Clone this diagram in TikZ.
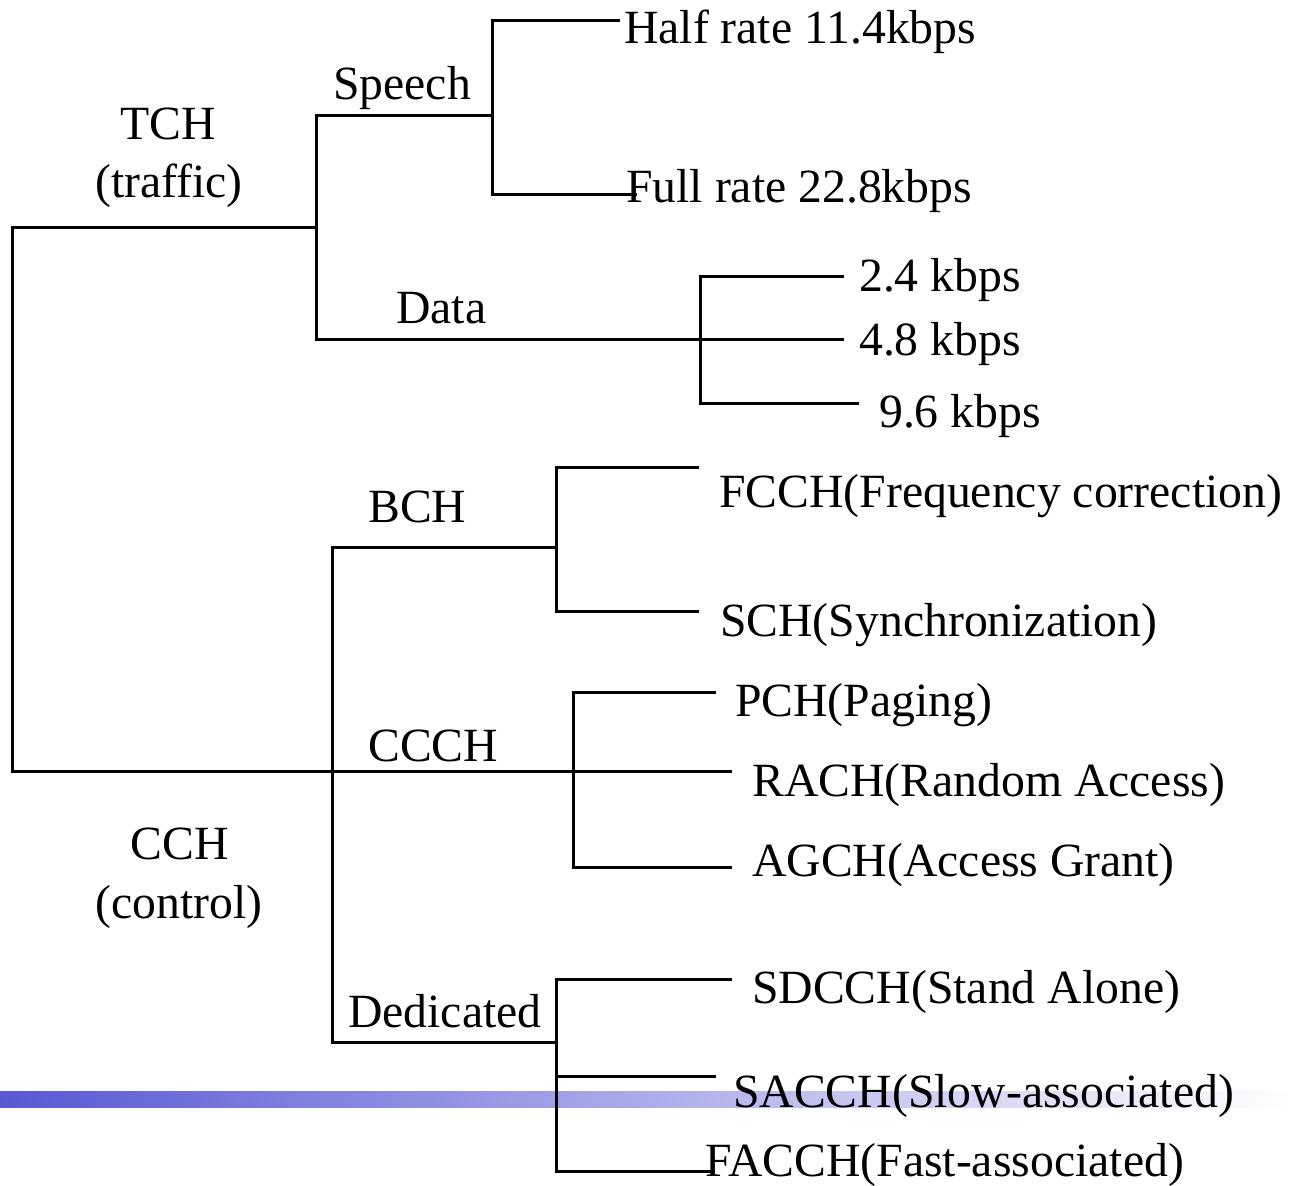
\documentclass[tikz,border=0pt]{standalone}
\usepackage{fontspec}
\setmainfont{Liberation Serif}
\definecolor{barblue}{RGB}{88,88,212}
\begin{document}
\begin{tikzpicture}[x=1pt,y=-1pt,
  branch/.style={line width=3pt, line join=miter, line cap=butt},
  lbl/.style={inner sep=0pt, anchor=base west, font=\fontsize{47.7}{57}\selectfont},
  clbl/.style={lbl, anchor=base}]
\useasboundingbox (0,0) rectangle (1291,1186);

% decorative fading bar along the bottom
\shade[left color=barblue, right color=white] (0,1091) rectangle (1291,1107);

% labels
\node[clbl] (tch)  at (168,139) {TCH};
\node[clbl] (tchb) at (169,197) {(traffic)};
\node[clbl] (cch)  at (180,859) {CCH};
\node[clbl] (cchb) at (179,918) {(control)};
\node[lbl] (speech) at (333,99) {Speech};
\node[lbl] (data)   at (396,323) {Data};
\node[lbl] (half)   at (624,43) {Half rate 11.4kbps};
\node[lbl] (full)   at (626,202) {Full rate 22.8kbps};
\node[lbl] (r24)    at (859,291) {2.4 kbps};
\node[lbl] (r48)    at (859,355) {4.8 kbps};
\node[lbl] (r96)    at (879,427) {9.6 kbps};
\node[lbl] (bch)    at (368,522) {BCH};
\node[lbl] (ccch)   at (368,761) {CCCH};
\node[lbl] (ded)    at (348,1027) {Dedicated};
\node[lbl] (fcch)   at (719,507) {FCCH(Frequency correction)};
\node[lbl] (sch)    at (720,636) {SCH(Synchronization)};
\node[lbl] (pch)    at (735,716) {PCH(Paging)};
\node[lbl] (rach)   at (752,796) {RACH(Random Access)};
\node[lbl] (agch)   at (752,876) {AGCH(Access Grant)};
\node[lbl] (sdcch)  at (752,1003) {SDCCH(Stand Alone)};
\node[lbl] (sacch)  at (733,1107) {SACCH(Slow-associated)};
\node[lbl] (facch)  at (705,1176) {FACCH(Fast-associated)};

% junction and end points of the tree
\coordinate (rootT) at (12,227.5);
\coordinate (rootC) at (12,771.5);
\coordinate (tchJ)  at (316,227.5);
\coordinate (tchT)  at (316,115.5);
\coordinate (tchB)  at (316,339);
\coordinate (spJ)   at (492,115.5);
\coordinate (spT)   at (492,20);
\coordinate (spB)   at (492,194.5);
\coordinate (halfE) at (620,20);
\coordinate (fullE) at (637,194.5);
\coordinate (daT)   at (700,276);
\coordinate (daB)   at (700,403);
\coordinate (r24E)  at (844,276);
\coordinate (r48E)  at (844,339);
\coordinate (r96E)  at (859,403);
\coordinate (cchT)  at (332,547);
\coordinate (cchB)  at (332,1042.5);
\coordinate (bchJ)  at (556,547);
\coordinate (bchT)  at (556,467);
\coordinate (bchB)  at (556,611);
\coordinate (fcchE) at (699,467);
\coordinate (schE)  at (699,611);
\coordinate (ccT)   at (573,692);
\coordinate (ccB)   at (573,867);
\coordinate (pchE)  at (716,692);
\coordinate (rachE) at (732,771.5);
\coordinate (agchE) at (732,867);
\coordinate (dedJ)  at (556,1042.5);
\coordinate (dedT)  at (556,979);
\coordinate (dedM)  at (556,1076);
\coordinate (dedB)  at (556,1171);
\coordinate (sdE)   at (732,979);
\coordinate (saE)   at (716,1076);
\coordinate (faE)   at (715,1171);

% connectors
\draw[branch] (tchJ) -- (rootT) -- (rootC) -- (rachE);
\draw[branch] (spJ) -- (tchT) -- (tchB) -- (r48E);
\draw[branch] (halfE) -- (spT) -- (spB) -- (fullE);
\draw[branch] (r24E) -- (daT) -- (daB) -- (r96E);
\draw[branch] (bchJ) -- (cchT) -- (cchB) -- (dedJ);
\draw[branch] (fcchE) -- (bchT) -- (bchB) -- (schE);
\draw[branch] (pchE) -- (ccT) -- (ccB) -- (agchE);
\draw[branch] (sdE) -- (dedT) -- (dedB) -- (faE);
\draw[branch] (dedM) -- (saE);
\end{tikzpicture}
\end{document}
